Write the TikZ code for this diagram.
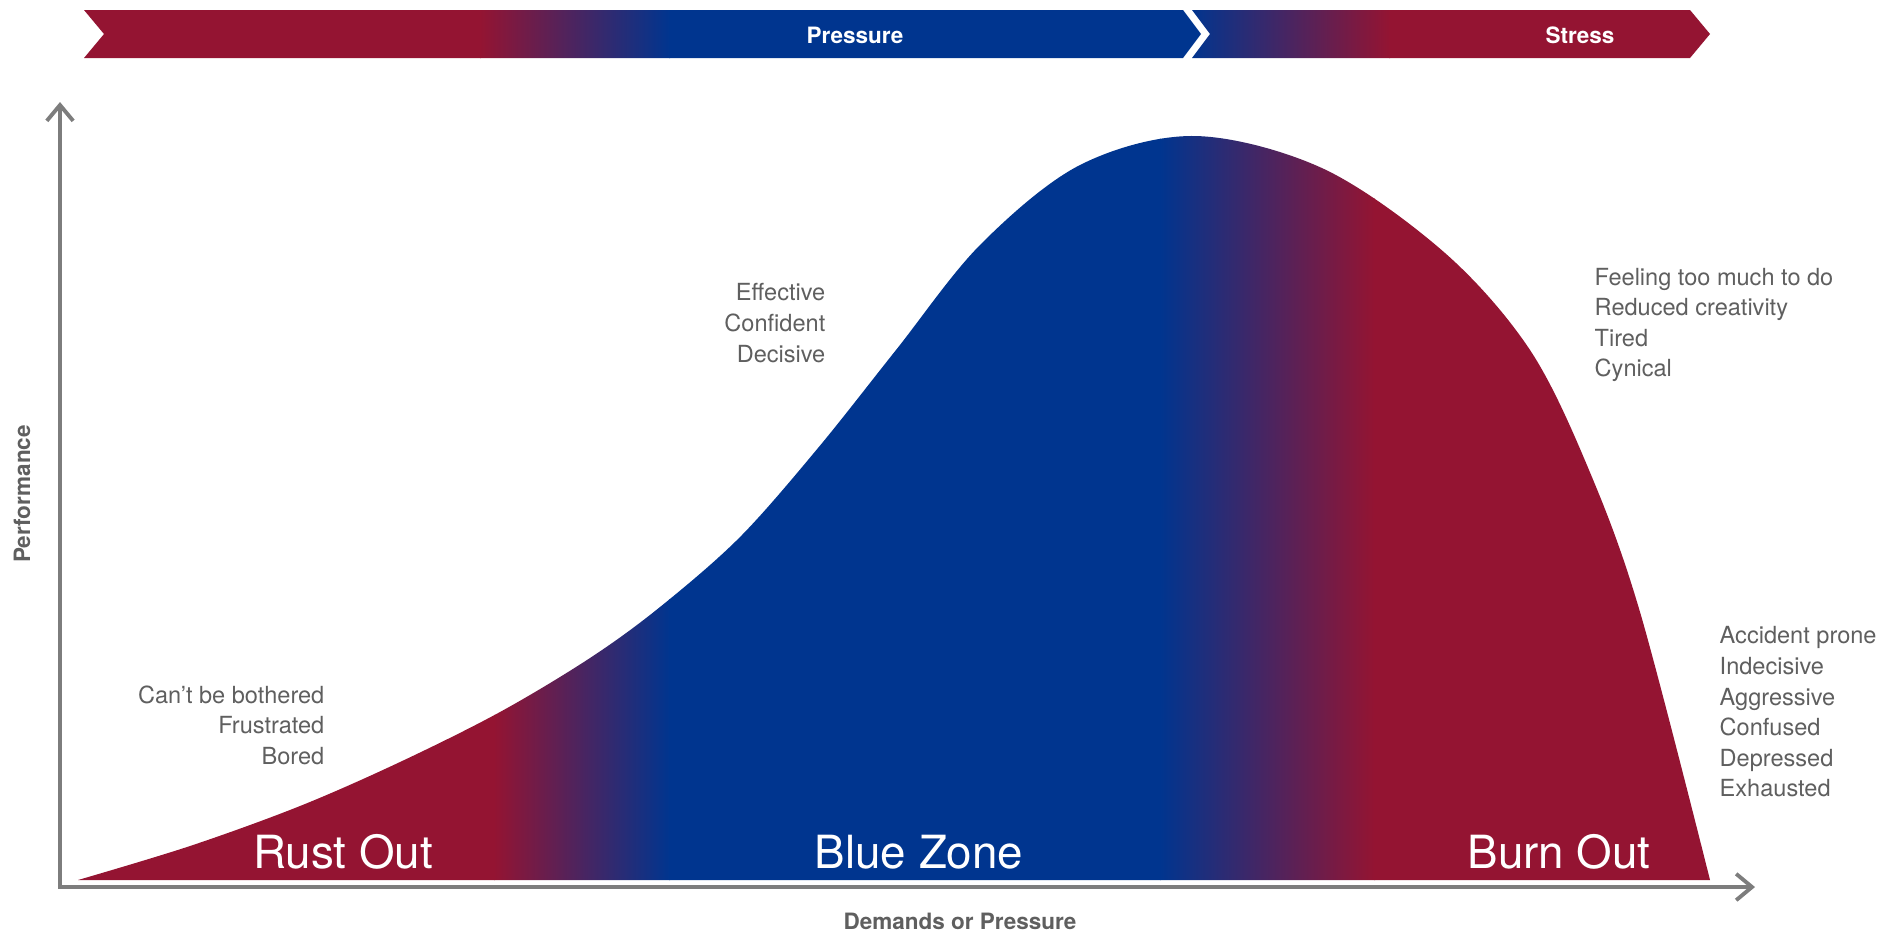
\documentclass[tikz,border=0pt]{standalone}
\usepackage{fontspec}
\setmainfont{TeX Gyre Heros}
\usetikzlibrary{arrows.meta}

\definecolor{rust}{RGB}{148,20,50}
\definecolor{zoneblue}{RGB}{0,53,143}
\definecolor{labelgray}{RGB}{95,95,95}
\definecolor{axisgray}{RGB}{125,125,125}

\begin{document}
\begin{tikzpicture}[x=0.01cm, y=-0.01cm,
    axis/.style={draw=axisgray, line width=1.1pt, >={Straight Barb[length=4.5pt,width=7.5pt]}},
    listtext/.style={text=labelgray, inner sep=0pt, font=\fontsize{6.7}{8.7}\selectfont},
    zonelabel/.style={text=white, inner sep=0pt, font=\fontsize{13}{15}\selectfont},
    bannerlabel/.style={text=white, inner sep=0pt, font=\bfseries\fontsize{6.4}{8}\selectfont},
    axislabel/.style={text=labelgray, inner sep=0pt, font=\bfseries\fontsize{6.4}{8}\selectfont}]
  \useasboundingbox (0,0) rectangle (1888,932);

  % banner: pressure part
  \begin{scope}
    \clip (84,10) -- (1183,10) -- (1201,34) -- (1183,58) -- (84,58) -- (104,34) -- cycle;
    \fill[rust] (80,5) rectangle (481,62);
    \shade[left color=rust, right color=zoneblue] (480,5) rectangle (670,62);
    \fill[zoneblue] (669,5) rectangle (1205,62);
  \end{scope}
  % banner: stress part
  \begin{scope}
    \clip (1192,10) -- (1690,10) -- (1710,34) -- (1690,58) -- (1192,58) -- (1210,34) -- cycle;
    \shade[left color=zoneblue, right color=rust] (1190,5) rectangle (1390,62);
    \fill[rust] (1389,5) rectangle (1715,62);
  \end{scope}
  \node[bannerlabel] (pressure) at (855,35) {Pressure};
  \node[bannerlabel] (stress) at (1580,35) {Stress};

  % performance curve, filled red - blue - red
  \begin{scope}
    \clip plot[smooth, tension=0.55] coordinates {(78,880) (190,846) (300,806)
      (400,762) (500,712) (590,658) (660,607) (740,537) (818,448) (896,350)
      (980,245) (1080,165) (1195,136) (1324,169) (1445,253) (1530,350)
      (1589,470) (1640,612) (1710,880)} -- cycle;
    \fill[rust] (60,100) rectangle (495,890);
    \shade[left color=rust, right color=zoneblue] (494,100) rectangle (670,890);
    \fill[zoneblue] (669,100) rectangle (1161,890);
    \shade[left color=zoneblue, right color=rust] (1160,100) rectangle (1375,890);
    \fill[rust] (1374,100) rectangle (1720,890);
  \end{scope}

  % axes
  \coordinate (origin) at (60,887);
  \coordinate (ytip) at (60,102);
  \coordinate (xtip) at (1755,887);
  \draw[axis, <->] (ytip) -- (origin) -- (xtip);
  \node[axislabel, rotate=90] (perf) at (22,494) {Performance};
  \node[axislabel] (demands) at (960,921) {Demands or Pressure};

  % zones
  \node[zonelabel] (rustout) at (343,852) {Rust Out};
  \node[zonelabel] (bluezone) at (919,852) {Blue Zone};
  \node[zonelabel] (burnout) at (1559,852) {Burn Out};

  % how each zone feels
  \node[listtext, align=right, anchor=east] (bored) at (325,725)
    {Can't be bothered\\Frustrated\\Bored};
  \node[listtext, align=right, anchor=east] (effective) at (826,323)
    {Effective\\Confident\\Decisive};
  \node[listtext, align=left, anchor=west] (toomuch) at (1594,325)
    {Feeling too much to do\\Reduced creativity\\Tired\\Cynical};
  \node[listtext, align=left, anchor=west] (prone) at (1719,712)
    {Accident prone\\Indecisive\\Aggressive\\Confused\\Depressed\\Exhausted};
\end{tikzpicture}
\end{document}
